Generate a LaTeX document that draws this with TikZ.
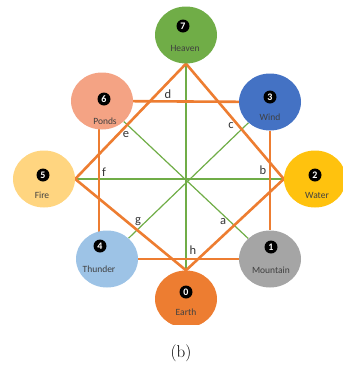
\documentclass[tikz,border=0pt]{standalone}
\usepackage{fontspec}
\newfontfamily\calibri{Carlito}
\usepackage{tikz}
\usetikzlibrary{shapes.geometric,backgrounds}
\definecolor{yangorange}{HTML}{ED7D31}
\definecolor{yingreen}{HTML}{70AD47}
\definecolor{orbheaven}{HTML}{70AD47}
\definecolor{orbwind}{HTML}{4472C4}
\definecolor{orbwater}{HTML}{FFC20E}
\definecolor{orbmountain}{HTML}{A5A5A5}
\definecolor{orbearth}{HTML}{ED7D31}
\definecolor{orbthunder}{HTML}{9DC3E6}
\definecolor{orbfire}{HTML}{FFD580}
\definecolor{orbponds}{HTML}{F4A384}

\begin{document}
\begin{tikzpicture}[x=1pt, y=-1pt,
  orb/.style={ellipse, fill=#1, minimum width=62pt, minimum height=57pt, inner sep=0pt},
  badge/.style={circle, fill=black, text=white, minimum size=13pt, inner sep=0pt, font=\calibri\bfseries\fontsize{10}{10}\selectfont},
  nm/.style={text=black!75, font=\calibri\fontsize{9.5}{10}\selectfont},
  tag/.style={text=black!80, font=\calibri\fontsize{12.5}{13}\selectfont},
  yang/.style={draw=yangorange, line width=2.6pt},
  yin/.style={draw=yingreen, line width=1.2pt}]
\useasboundingbox (0,0) rectangle (343,365);
\begin{scope}
\clip (0,0) rectangle (343,324);
\foreach \id/\x/\y/\k/\t/\bx/\by/\tx/\ty in {
  heaven/186/35/7/Heaven/183/26/185/48,
  wind/270/102/3/Wind/270/97/270/117,
  water/315/179/2/Water/315/175/317/195,
  mountain/270/259/1/Mountain/271/247/271/270,
  earth/186/299/0/Earth/186/292/186/312,
  thunder/107/259/4/Thunder/100/246/99/269,
  fire/44/179/5/Fire/43/175/42/195,
  ponds/102/101/6/Ponds/104/99/105/121}
{
  \node[orb=orb\id] (\id) at (\x,\y) {};
  \node[badge] (k\id) at (\bx,\by) {\k};
  \node[nm] (t\id) at (\tx,\ty) {\t};
}
\end{scope}
\begin{scope}[on background layer]
\draw[yin] (heaven) -- (earth);
\draw[yin] (fire) -- (water);
\draw[yin] (ponds) -- (mountain);
\draw[yin] (wind) -- (thunder);
\draw[yang] (heaven.south) -- (fire.east) -- (earth.north) -- (water.west) -- cycle;
\draw[yang] (ponds) -- (wind);
\draw[yang] ([xshift=-3pt]ponds.center) -- ([xshift=-3pt]ponds.center |- thunder.center);
\draw[yang] (wind) -- (mountain);
\draw[yang] (thunder) -- (mountain);
\end{scope}
\node[tag] (la) at (223,222) {a};
\node[tag] (lb) at (263,170) {b};
\node[tag] (lc) at (231,126) {c};
\node[tag] (ld) at (168,94) {d};
\node[tag] (le) at (126,135) {e};
\node[tag] (lf) at (104,172) {f};
\node[tag] (lg) at (138,222) {g};
\node[tag] (lh) at (193,250) {h};
\node[font=\fontsize{17}{19}\selectfont] (cap) at (181,353) {(b)};
\end{tikzpicture}
\end{document}
